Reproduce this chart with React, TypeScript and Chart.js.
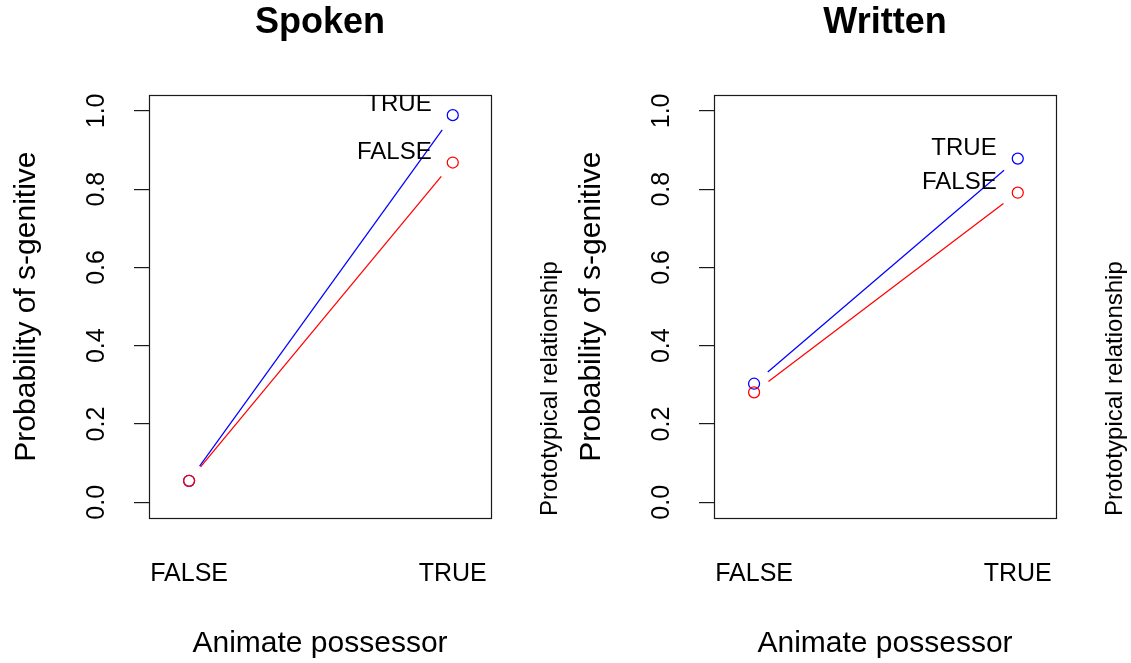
import { useEffect, useRef } from "react";
import { Chart, registerables } from "chart.js";

Chart.register(...registerables);

// Factor levels on the x axis and their numeric positions
const possessorLevels = ["FALSE", "TRUE"];
const possessorX = [1, 2];

// Y axis ticks
const yTickValues = [0, 0.2, 0.4, 0.6, 0.8, 1.0];
const yTickLabels = ["0.0", "0.2", "0.4", "0.6", "0.8", "1.0"];

// Trace factor (prototypical relationship) levels, in legend order
const relationshipLevels = ["TRUE", "FALSE"];

// Mean probability of the s-genitive per cell
const spokenTrue = [0.055, 0.989];
const spokenFalse = [0.055, 0.868];
const writtenTrue = [0.303, 0.878];
const writtenFalse = [0.281, 0.791];

// Where the trace labels sit inside each panel (data units)
const legendAnchorX = 1.92;
const spokenLegendY = [1.016, 0.894];
const writtenLegendY = [0.904, 0.817];

const FONT = "'Liberation Sans', Arial, Helvetica, sans-serif";
const TEXT_COLOR = "#000000";
const TRUE_COLOR = "#0000FF";
const FALSE_COLOR = "#FF0000";
const SEGMENT_GAP = 18;
const MARK_WIDTH = 1.25;

Chart.defaults.font.family = FONT;
Chart.defaults.color = TEXT_COLOR;

// Draws the base-graphics look: broken connecting segments ("type b"),
// the frame, rotated y tick labels and the trace legend.
const basePlotPlugin = {
  id: "basePlot",
  beforeDatasetsDraw(chart: any) {
    const ctx = chart.ctx;
    chart.data.datasets.forEach((ds: any, i: number) => {
      const pts = chart.getDatasetMeta(i).data;
      ctx.save();
      ctx.strokeStyle = ds.borderColor;
      ctx.lineWidth = MARK_WIDTH;
      for (let k = 0; k < pts.length - 1; k++) {
        const a = pts[k];
        const b = pts[k + 1];
        const dx = b.x - a.x;
        const dy = b.y - a.y;
        const len = Math.hypot(dx, dy);
        if (len <= 2 * SEGMENT_GAP) continue;
        const ux = dx / len;
        const uy = dy / len;
        ctx.beginPath();
        ctx.moveTo(a.x + ux * SEGMENT_GAP, a.y + uy * SEGMENT_GAP);
        ctx.lineTo(b.x - ux * SEGMENT_GAP, b.y - uy * SEGMENT_GAP);
        ctx.stroke();
      }
      ctx.restore();
    });
  },
  afterDraw(chart: any, _args: any, opts: any) {
    const ctx = chart.ctx;
    const area = chart.chartArea;
    const xs = chart.scales.x;
    const ys = chart.scales.y;

    // frame around the plotting region
    ctx.save();
    ctx.strokeStyle = "#1a1a1a";
    ctx.lineWidth = 1.2;
    const l = Math.round(area.left) + 0.5;
    const t = Math.round(area.top) + 0.5;
    const r = Math.round(area.right) + 0.5;
    const b = Math.round(area.bottom) + 0.5;
    ctx.strokeRect(l, t, r - l, b - t);
    ctx.restore();

    // y tick labels, rotated to read upwards
    ctx.save();
    ctx.fillStyle = TEXT_COLOR;
    ctx.font = `25px ${FONT}`;
    ctx.textAlign = "center";
    ctx.textBaseline = "middle";
    yTickValues.forEach((v, i) => {
      const py = ys.getPixelForValue(v);
      ctx.save();
      ctx.translate(opts.yLabelX, py);
      ctx.rotate(-Math.PI / 2);
      ctx.fillText(yTickLabels[i], 0, 0);
      ctx.restore();
    });
    ctx.restore();

    // trace legend labels, clipped to the plotting region
    ctx.save();
    ctx.beginPath();
    ctx.rect(area.left, area.top, area.right - area.left, area.bottom - area.top);
    ctx.clip();
    ctx.fillStyle = TEXT_COLOR;
    ctx.font = `24px ${FONT}`;
    ctx.textAlign = "right";
    ctx.textBaseline = "middle";
    const lx = xs.getPixelForValue(legendAnchorX);
    relationshipLevels.forEach((lab, i) => {
      ctx.fillText(lab, lx, ys.getPixelForValue(opts.legendY[i]));
    });
    ctx.restore();

    // trace factor name, vertical on the right margin
    ctx.save();
    ctx.fillStyle = TEXT_COLOR;
    ctx.font = `24px ${FONT}`;
    ctx.textAlign = "left";
    ctx.textBaseline = "middle";
    ctx.translate(opts.traceTitleX, area.bottom - 2);
    ctx.rotate(-Math.PI / 2);
    ctx.fillText(opts.traceTitle, 0, 0);
    ctx.restore();
  },
};

type PanelProps = {
  title: string;
  trueVals: number[];
  falseVals: number[];
  legendY: number[];
  left: number;
  width: number;
};

function Panel({ title, trueVals, falseVals, legendY, left, width }: PanelProps) {
  const ref = useRef<HTMLCanvasElement | null>(null);

  useEffect(() => {
    if (!ref.current) return;
    const toPoints = (vals: number[]) => possessorX.map((x, i) => ({ x, y: vals[i] }));
    const chart = new Chart(ref.current, {
      type: "line",
      data: {
        datasets: [
          {
            label: "FALSE",
            data: toPoints(falseVals),
            borderColor: FALSE_COLOR,
            pointBorderColor: FALSE_COLOR,
            pointBackgroundColor: "rgba(0,0,0,0)",
            pointRadius: 5.5,
            pointBorderWidth: MARK_WIDTH,
            showLine: false,
          },
          {
            label: "TRUE",
            data: toPoints(trueVals),
            borderColor: TRUE_COLOR,
            pointBorderColor: TRUE_COLOR,
            pointBackgroundColor: "rgba(0,0,0,0)",
            pointRadius: 5.5,
            pointBorderWidth: MARK_WIDTH,
            showLine: false,
          },
        ],
      },
      options: {
        responsive: false,
        animation: false,
        events: [],
        layout: { padding: { left: 0, right: width - 491, top: 0, bottom: 0 } },
        plugins: {
          legend: { display: false },
          tooltip: { enabled: false },
          title: {
            display: true,
            text: title,
            fullSize: false,
            color: TEXT_COLOR,
            font: { size: 36, weight: "bold" },
            padding: { top: 1, bottom: 51 },
          },
          basePlot: {
            legendY,
            yLabelX: 97,
            traceTitleX: 550,
            traceTitle: "Prototypical relationship",
          },
        } as any,
        scales: {
          x: {
            type: "linear",
            min: 0.848,
            max: 2.145,
            afterBuildTicks: (s: any) => {
              s.ticks = possessorX.map((v) => ({ value: v }));
            },
            ticks: {
              autoSkip: false,
              maxRotation: 0,
              minRotation: 0,
              padding: 41,
              color: TEXT_COLOR,
              font: { size: 25 },
              callback: (v: any) => {
                const idx = possessorX.indexOf(Number(v));
                return idx >= 0 ? possessorLevels[idx] : "";
              },
            },
            grid: { display: false, drawTicks: false },
            border: { display: false },
            title: {
              display: true,
              text: "Animate possessor",
              color: TEXT_COLOR,
              font: { size: 30 },
              padding: { top: 0, bottom: 1 },
            },
            afterFit: (s: any) => {
              s.height = 145;
            },
          },
          y: {
            type: "linear",
            min: -0.04,
            max: 1.04,
            afterBuildTicks: (s: any) => {
              s.ticks = yTickValues.map((v) => ({ value: v }));
            },
            ticks: { display: false },
            grid: {
              display: true,
              drawOnChartArea: false,
              drawTicks: true,
              tickLength: 15,
              color: "#1a1a1a",
              lineWidth: 1.2,
            },
            border: { display: false },
            title: {
              display: true,
              text: "Probability of s-genitive",
              color: TEXT_COLOR,
              font: { size: 30 },
              padding: { top: 9, bottom: 0 },
            },
            afterFit: (s: any) => {
              s.width = 149;
            },
          },
        },
      } as any,
      plugins: [basePlotPlugin],
    });
    return () => chart.destroy();
  }, [title, trueVals, falseVals, legendY, width]);

  return (
    <canvas
      ref={ref}
      width={width}
      height={663}
      style={{ position: "absolute", left, top: 0, width, height: 663, display: "block" }}
    />
  );
}

export default function App() {
  return (
    <div
      style={{
        position: "absolute",
        left: 0,
        top: 0,
        width: 1131,
        height: 663,
        background: "#ffffff",
        overflow: "hidden",
      }}
    >
      <Panel
        title="Spoken"
        trueVals={spokenTrue}
        falseVals={spokenFalse}
        legendY={spokenLegendY}
        left={0}
        width={565}
      />
      <Panel
        title="Written"
        trueVals={writtenTrue}
        falseVals={writtenFalse}
        legendY={writtenLegendY}
        left={565}
        width={566}
      />
    </div>
  );
}
